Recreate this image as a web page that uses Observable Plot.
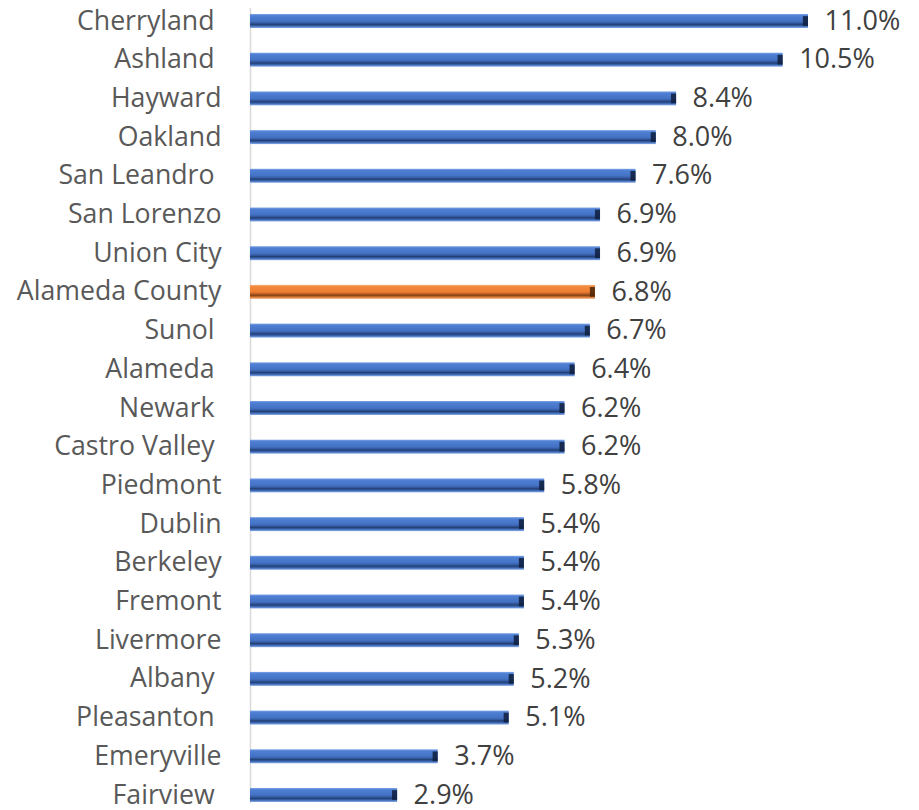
<!DOCTYPE html>
<html>
<head>
<meta charset="utf-8">
<script src="https://cdn.jsdelivr.net/npm/d3@7"></script>
<script src="https://cdn.jsdelivr.net/npm/@observablehq/plot@0.6"></script>
<style>
  html, body { margin: 0; padding: 0; background: #fff; }
  svg text { white-space: pre; }
</style>
</head>
<body>
<div id="chart"></div>
<script>
const places = ["Cherryland ", "Ashland ", "Hayward", "Oakland", "San Leandro ", "San Lorenzo", "Union City", "Alameda County", "Sunol ", "Alameda ", "Newark ", "Castro Valley ", "Piedmont", "Dublin", "Berkeley", "Fremont", "Livermore", "Albany ", "Pleasanton ", "Emeryville", "Fairview "];
const values = [11.0, 10.5, 8.4, 8.0, 7.6, 6.9, 6.9, 6.8, 6.7, 6.4, 6.2, 6.2, 5.8, 5.4, 5.4, 5.4, 5.3, 5.2, 5.1, 3.7, 2.9];
const highlight = "Alameda County";

const data = places.map((p, i) => ({place: p, value: values[i], county: p === highlight}));

const chart = Plot.plot({
  width: 919,
  height: 810,
  marginLeft: 250,
  marginRight: 111,
  marginTop: 8,
  marginBottom: 7,
  style: {fontFamily: "'Open Sans', sans-serif", background: "#fff"},
  x: {domain: [0, 11], range: [250, 808], axis: null},
  y: {domain: places, range: [1.65, 814.35], padding: 0, round: false, label: null},
  marks: [
    Plot.ruleX([0], {stroke: "#d9d9d9", strokeWidth: 1.5}),
    Plot.barX(data, {
      y: "place", x: "value",
      fill: d => d.county ? "url(#gOrange)" : "url(#gBlue)",
      insetTop: 12.35, insetBottom: 12.35
    }),
    Plot.barX(data, {
      y: "place", x1: d => d.value - 0.1, x2: "value",
      fill: d => d.county ? "#4a2408" : "#0f1f3d",
      fillOpacity: 0.85,
      insetTop: 14.5, insetBottom: 14.5
    }),
    Plot.text(data, {
      y: "place", x: "value",
      text: d => d.value.toFixed(1) + "%",
      textAnchor: "start", dx: 16, dy: -0.5,
      fontSize: 27, fill: "#404040"
    }),
    Plot.axisY({tickSize: 0, tickPadding: 29, fontSize: 26.7, color: "#595959", dy: -0.5, label: null})
  ]
});

const ns = "http://www.w3.org/2000/svg";
const defs = document.createElementNS(ns, "defs");
function grad(id, stops) {
  const g = document.createElementNS(ns, "linearGradient");
  g.setAttribute("id", id);
  g.setAttribute("x1", "0"); g.setAttribute("y1", "0");
  g.setAttribute("x2", "0"); g.setAttribute("y2", "1");
  stops.forEach(([o, c]) => {
    const s = document.createElementNS(ns, "stop");
    s.setAttribute("offset", o);
    s.setAttribute("stop-color", c);
    g.appendChild(s);
  });
  defs.appendChild(g);
}
grad("gBlue", [["0%", "#7fa5e6"], ["12%", "#4f80d4"], ["50%", "#4472c4"], ["62%", "#3760aa"], ["74%", "#233f73"], ["86%", "#3b66b3"], ["100%", "#8aaee8"]]);
grad("gOrange", [["0%", "#f7b07c"], ["12%", "#f28a3f"], ["50%", "#ed7d31"], ["62%", "#c66426"], ["74%", "#7e4117"], ["86%", "#d2702c"], ["100%", "#f7b88a"]]);
chart.insertBefore(defs, chart.firstChild);

document.getElementById("chart").appendChild(chart);
</script>
</body>
</html>
